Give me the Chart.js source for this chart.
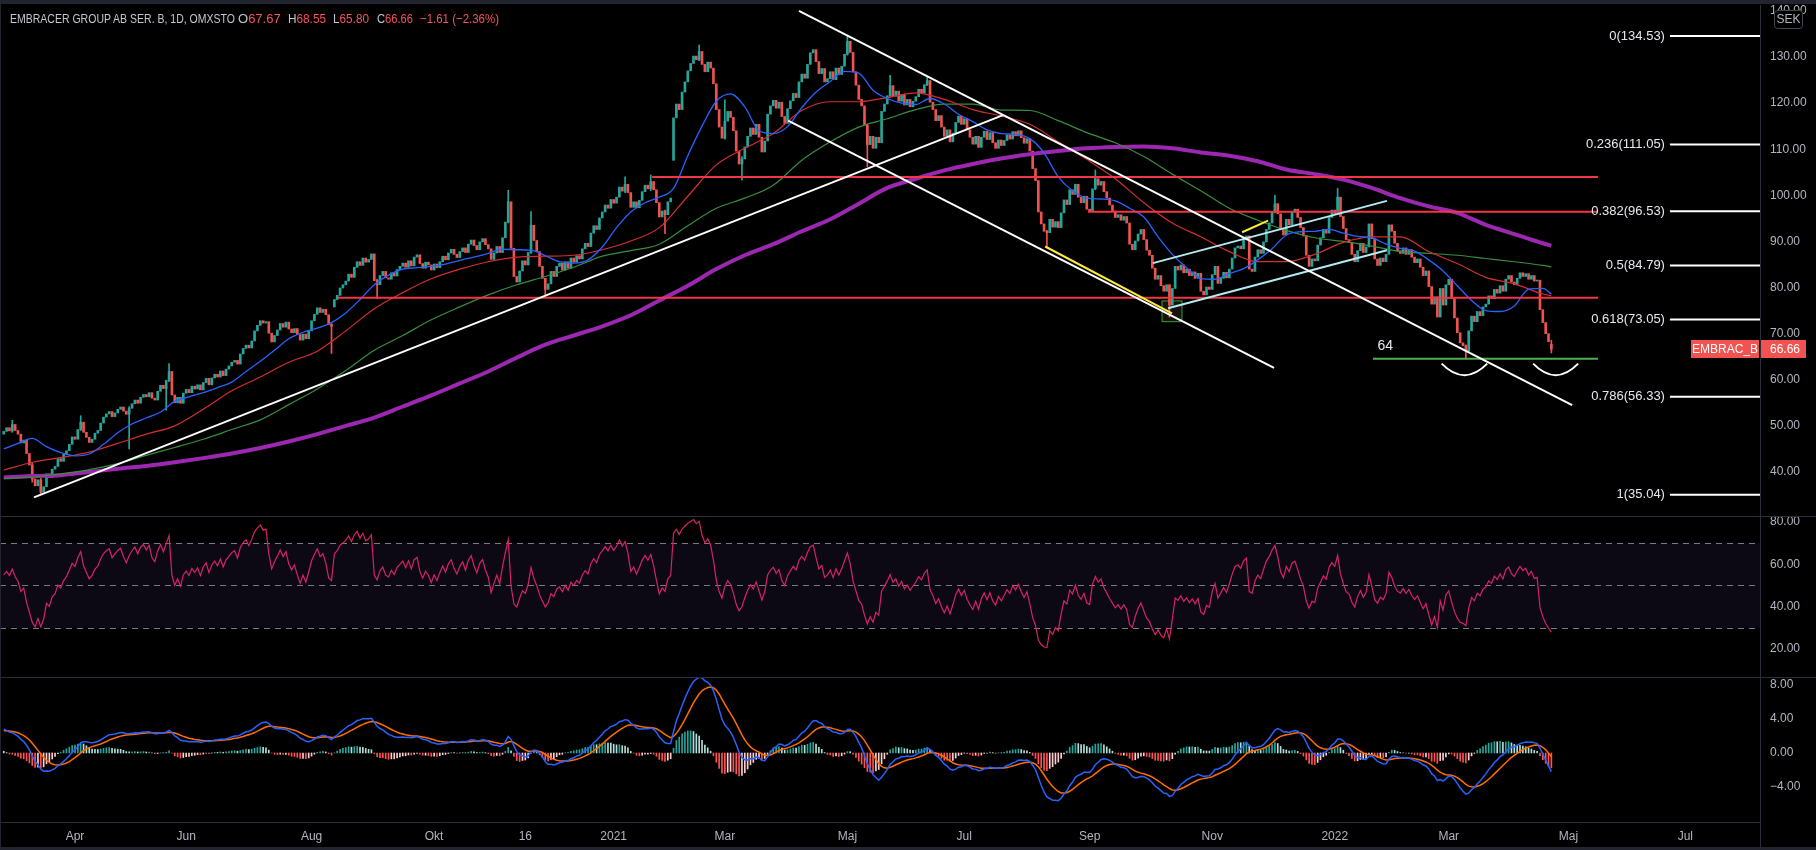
<!DOCTYPE html>
<html lang="sv">
<head>
<meta charset="utf-8">
<title>EMBRACER GROUP AB SER. B, 1D, OMXSTO</title>
<script src="https://cdn.jsdelivr.net/npm/chart.js@4.4.1/dist/chart.umd.min.js"></script>
<style>
 html,body{margin:0;padding:0;background:#000;}
 #wrap{position:relative;width:1816px;height:850px;background:#000;overflow:hidden;font-family:"Liberation Sans",Arial,sans-serif;}
 .pane{position:absolute;left:0;width:1816px;}
 #paneP{top:0;height:516px;}
 #paneR{top:517px;height:160px;}
 #paneM{top:678px;height:172px;}
 .sep{position:absolute;left:0;width:1816px;height:1px;background:#2a2e39;}
 #legend{position:absolute;left:0;top:11px;width:700px;height:16px;font-size:13px;line-height:16px;color:#c3c6ce;white-space:nowrap;}
 #legend span.it{position:absolute;top:0;transform-origin:0 50%;}
 #legend .v{color:#f7525f;}
</style>
</head>
<body>
<div id="wrap">
 <div class="pane" id="paneP"><canvas id="cP" width="1816" height="516"></canvas></div>
 <div class="sep" style="top:516px"></div>
 <div class="pane" id="paneR"><canvas id="cR" width="1816" height="160"></canvas></div>
 <div class="sep" style="top:677px"></div>
 <div class="pane" id="paneM"><canvas id="cM" width="1816" height="172"></canvas></div>
 <div style="position:absolute;left:0;top:0;width:1816px;height:4px;background:#22252f"></div>
 <div style="position:absolute;left:0;top:0;width:1px;height:850px;background:#22252f"></div>
 <div style="position:absolute;left:0;top:847px;width:1816px;height:3px;background:#22252f"></div>
 <div style="position:absolute;left:1760px;top:822px;width:1px;height:26px;background:#2a2e39"></div>
 <div id="legend"></div>
</div>
<script>
// ---------------- DATA ----------------
const symbolTitle = 'EMBRACER GROUP AB SER. B, 1D, OMXSTO';
const tagName = 'EMBRAC_B';
const startDate = '2020-02-26';
const holidays = ['2020-04-10','2020-04-13','2020-05-01','2020-05-21','2020-06-19','2020-12-24','2020-12-25','2020-12-31',
  '2021-01-01','2021-01-06','2021-04-02','2021-04-05','2021-05-13','2021-06-25','2021-12-24','2021-12-31',
  '2022-01-06','2022-04-15','2022-04-18','2022-05-26','2022-06-06','2022-06-24'];
const tickDates = ['2020-04-01','2020-06-01','2020-08-01','2020-10-01','2020-11-16','2021-01-01','2021-03-01','2021-05-01','2021-07-01','2021-09-01','2021-11-01','2022-01-01','2022-03-01','2022-05-01','2022-07-01'];
const tickLabels = ['Apr','Jun','Aug','Okt','16','2021','Mar','Maj','Jul','Sep','Nov','2022','Mar','Maj','Jul'];

// daily closes
const closes = [
48.8,49.6,48.9,50.3,49.0,48.2,46.3,46.9,44.0,41.5,
38.5,37.0,38.3,35.6,36.8,39.6,38.8,40.6,41.2,42.9,
42.3,43.8,44.6,46.0,47.6,47.1,49.2,50.8,48.6,47.5,
46.4,47.1,48.4,49.0,50.6,51.9,52.6,53.1,52.0,52.8,
53.6,54.1,53.2,52.5,53.8,54.8,55.6,54.9,56.2,56.8,
56.3,57.2,56.0,55.6,57.5,58.8,58.1,59.8,61.8,56.7,
55.0,56.2,54.9,57.1,57.9,57.2,58.6,58.0,58.9,57.8,
59.4,60.3,58.9,60.4,61.2,60.6,61.9,60.9,62.3,63.0,
63.8,64.2,63.4,65.6,66.8,67.5,66.9,68.4,70.6,71.8,
72.8,72.3,72.6,70.1,68.2,69.6,70.8,72.2,71.4,72.5,
71.0,70.2,71.1,69.8,68.6,69.9,68.9,70.6,72.8,74.2,
75.6,74.6,75.3,74.1,72.0,71.6,77.4,78.3,79.9,80.6,
81.4,82.9,82.2,84.4,85.6,84.8,86.4,85.5,86.1,87.3,
81.5,80.6,82.6,83.5,82.1,81.8,83.2,82.5,83.9,84.6,
85.3,84.4,85.8,84.7,86.6,87.1,85.2,84.2,85.5,84.9,
83.8,85.1,84.3,85.6,86.8,86.0,87.5,88.3,87.2,86.5,
87.8,88.6,87.6,89.4,90.3,89.1,88.2,89.9,90.6,89.3,
88.4,86.1,87.5,88.9,87.6,90.8,94.2,98.6,88.5,82.4,
81.2,83.6,85.8,84.9,87.6,93.5,90.2,87.8,84.6,82.0,
79.6,80.8,83.5,82.4,84.6,85.3,83.8,85.6,84.2,86.4,
85.5,86.9,86.2,88.4,89.6,88.9,91.8,93.4,92.6,95.1,
96.4,97.9,97.2,99.1,98.3,99.6,101.8,100.9,102.4,100.6,
97.4,98.6,97.3,98.9,100.8,102.2,101.4,103.0,101.2,98.4,
95.3,96.6,95.8,98.6,99.4,116.8,119.8,118.6,122.4,124.6,
127.0,128.6,130.2,129.4,131.2,128.4,126.8,128.9,127.6,124.2,
118.6,114.8,112.4,116.1,118.2,116.9,114.0,109.6,106.8,107.9,
110.5,112.8,114.6,113.2,115.4,112.6,109.4,111.8,117.6,119.4,
120.6,118.9,120.2,117.1,115.6,118.8,120.5,122.1,121.2,124.6,
126.3,125.4,128.4,130.9,131.6,129.0,126.4,127.5,124.6,125.3,
126.8,125.1,127.6,126.2,128.0,130.6,133.4,131.0,126.8,123.9,
120.8,119.4,115.2,111.0,112.8,110.2,112.6,111.4,118.2,119.8,
121.6,123.8,121.5,122.6,120.4,121.9,119.6,120.8,119.2,120.4,
121.4,123.0,122.2,124.0,124.9,120.2,118.6,116.2,117.3,114.8,
112.8,114.2,111.6,113.5,115.8,117.2,115.4,116.6,114.2,112.6,
111.1,112.8,110.4,112.6,113.9,112.1,113.6,111.4,110.2,112.0,
110.8,111.9,113.1,112.2,113.8,112.9,114.0,112.5,111.3,112.3,
109.6,105.8,103.2,96.4,93.8,92.2,91.9,94.8,93.1,94.3,
93.0,96.2,99.0,98.0,101.2,100.2,102.4,99.6,98.4,99.8,
97.0,96.5,101.4,103.6,102.2,103.0,100.8,99.4,97.9,96.6,
95.2,95.8,94.6,95.4,94.0,89.4,88.2,90.1,91.6,92.6,
90.4,88.1,87.0,84.2,81.8,82.6,80.4,79.2,80.6,76.2,
79.8,84.6,83.8,84.9,83.2,84.0,82.6,83.4,82.0,83.1,
79.2,78.4,80.1,79.6,82.8,84.6,80.9,82.0,83.3,82.1,
84.0,86.4,88.6,89.0,88.4,90.4,91.2,84.0,83.5,86.6,
88.2,87.4,89.9,92.6,94.0,96.4,98.2,96.0,92.8,91.4,
94.8,93.6,96.4,97.0,95.2,93.0,91.2,87.0,84.6,86.2,
85.8,89.2,90.8,92.6,91.8,95.2,96.8,96.0,99.6,95.4,
92.8,90.4,89.8,87.2,85.6,88.0,89.6,87.6,88.8,93.8,
90.6,86.2,84.8,86.4,85.6,87.2,93.6,92.2,89.6,88.0,
87.4,88.6,87.2,88.2,86.6,85.4,86.2,84.4,82.6,83.6,
80.2,76.4,78.0,73.6,79.8,76.2,80.6,81.8,77.6,73.4,
70.2,68.0,67.4,66.2,70.6,73.8,72.6,74.8,73.9,75.8,
76.4,78.2,77.6,79.6,78.8,80.4,79.2,81.8,82.6,81.2,
80.6,82.0,83.2,82.4,83.0,81.8,82.6,81.4,81.6,75.2,
72.4,70.0,68.27,66.66];
// opens that differ from the previous close: [bar, open]
const openGaps = [[0,48.2],[116,75.8],[235,107.6],[543,67.67]];
// visible wicks: [bar, high, low]
const wicks = [[3,51.2,48.6],[10,42.0,37.8],[13,38.6,35.04],[27,52.2,49.0],[44,54.2,45.0],[57,59.9,53.4],[58,63.5,59.6],
 [115,72.2,65.7],[131,81.8,77.6],[177,101.1,94.0],[185,96.5,87.4],[190,82.0,78.0],[218,104.0,100.6],[227,104.4,101.0],
 [232,96.8,91.7],[244,132.6,129.2],[253,120.7,112.2],[259,108.4,103.3],[296,134.53,130.4],[303,115.4,106.2],[311,126.0,121.4],
 [324,125.7,123.8],[366,92.4,88.9],[383,105.5,101.2],[409,80.6,73.6],[446,100.0,96.2],[468,101.5,95.8],[513,67.6,64.5],[543,68.55,65.80]];

// moving averages (blue every 5 bars, others every 10 bars, last value at the last bar)
const ma20 = [45.0,46.2,47.3,45.5,44.2,43.5,43.9,46.0,48.5,50.4,
 51.7,53.0,55.3,56.3,57.2,58.3,59.5,61.8,64.0,66.4,
 68.9,70.3,71.2,72.4,74.5,77.4,80.6,82.7,84.0,84.3,
 84.6,85.1,85.9,86.6,87.4,88.3,88.2,88.1,86.9,85.6,
 85.3,86.0,88.8,93.0,96.4,98.4,99.6,101.5,108.6,115.0,
 120.4,122.0,119.2,114.0,113.4,114.9,119.0,122.4,124.7,126.9,
 126.5,122.8,121.0,120.0,119.7,121.0,119.8,117.6,116.0,114.2,
 113.4,113.2,112.3,109.2,104.0,101.0,99.4,99.2,98.8,97.2,
 95.3,91.0,87.2,84.3,82.0,81.8,83.0,84.1,86.0,88.4,
 91.4,92.1,92.2,92.6,91.8,91.1,90.8,89.4,88.5,87.9,
 86.0,83.6,80.4,77.2,75.0,74.8,76.0,79.6,79.8,78.6];
const ma50 = [40.4,42.1,43.1,44.3,46.2,48.2,50.0,53.6,57.6,60.6,
 63.8,66.2,70.6,75.4,78.9,81.9,84.0,85.6,86.6,86.8,
 87.0,88.2,90.1,93.0,99.8,106.6,110.2,113.4,118.4,120.3,
 120.3,121.2,122.2,120.8,118.6,117.2,115.4,111.6,107.8,103.6,
 98.4,94.0,91.0,87.8,85.6,85.6,87.2,89.8,91.0,91.0,
 87.8,85.2,82.2,80.8,78.6,78.2];
const ma100 = [38.6,38.9,39.6,40.5,41.8,43.6,45.3,47.1,49.2,51.3,
 54.6,58.0,62.0,66.4,69.6,73.0,75.8,78.4,80.6,82.4,
 84.4,86.8,88.0,89.4,93.4,97.2,99.4,102.2,107.6,111.6,
 114.8,116.6,118.6,119.8,119.8,118.5,118.4,116.2,113.6,111.4,
 108.4,104.6,101.0,97.2,94.6,92.4,90.8,90.0,89.0,87.8,
 87.4,87.0,86.3,85.6,84.8,84.5];
const ma200 = [38.8,39.1,39.3,40.0,40.7,41.3,42.1,43.0,44.0,45.2,
 46.6,48.2,50.0,51.8,54.2,56.6,59.2,61.8,64.8,67.6,
 69.6,71.6,74.0,77.2,80.4,84.0,87.0,89.4,92.2,94.8,
 98.2,101.6,103.6,105.4,106.8,108.0,108.9,109.6,110.2,110.5,
 110.6,110.2,109.3,108.6,107.4,105.6,104.6,103.4,101.6,99.4,
 97.6,96.2,93.6,91.6,89.6,89.1];

// oscillator values at the first bar used to seed the indicators
const rsiStart = 55;
const macdStart = 2.8, signalStart = 2.6;

// drawings, in (bar, price)
const fibRatios = [0,0.236,0.382,0.5,0.618,0.786,1];
const fibPrices = [134.53,111.05,96.53,84.79,73.05,56.33,35.04];
const fibStartBar = 584.6;
const resistLevels = [104.0,96.45,77.8];
const resistStartBars = [227.5,380.4,117.3];
const levelEndBar = 559.4;
const supportLevel = 64.57, supportStartBar = 480.4, supportLabel = '64';
const trendWhite = [[10.6,34.5,350.6,117.4],[279.0,140.0,550.3,54.5],[275.2,116.2,445.7,62.6]];
const trendCyan = [[403.2,85.3,485.3,98.8],[408.5,75.5,485.3,88.1]];
const trendYellow = [[365.4,88.9,409.9,74.4],[434.5,92.0,443.6,94.5]];
const zoneBox = [406.4,413.4,72.6,77.1];
const arcs = [[504.5,520.5,63.5,61.0],[536.6,552.4,63.5,61.0]];

// axis ticks
const priceTicks = [40,50,60,70,80,90,100,110,120,130,140];
const rsiTicks = [20,40,60,80];
const rsiLevels = [70,50,30];
const macdTicks = [-4,0,4,8];

// ---------------- DERIVED ----------------
const N = closes.length;
const opens = closes.map((c,i)=> i===0 ? c : closes[i-1]);
openGaps.forEach(([i,o])=>{ opens[i]=o; });
const UP='#26a69a', DOWN='#ef5350';
const FONT='"Liberation Sans", Arial, sans-serif';

// trading calendar
const dates=[]; {
  const d=new Date(startDate+'T00:00:00Z');
  while(dates.length<640){ const dow=d.getUTCDay(); const s=d.toISOString().slice(0,10);
    if(dow!==0&&dow!==6&&!holidays.includes(s)) dates.push(s); d.setUTCDate(d.getUTCDate()+1); }
}
const tickIdx = tickDates.map(td=>dates.findIndex(s=>s>=td));

// RSI 14 (Wilder), state seeded from the first-bar reading
const rsi=new Array(N).fill(null); {
  let m=0; for(let i=1;i<=14;i++) m+=Math.abs(closes[i]-closes[i-1]); m/=14;
  let ag=m*rsiStart/100, al=m*(1-rsiStart/100);
  rsi[0]=rsiStart;
  for(let i=1;i<N;i++){ const ch=closes[i]-closes[i-1]; const g=Math.max(ch,0), l=Math.max(-ch,0);
    ag=(ag*13+g)/14; al=(al*13+l)/14; rsi[i]= al===0 ? 100 : 100-100/(1+ag/al); }
}
// MACD 12/26/9, seeded from the first-bar reading
function ema(arr,n,seed){ const k=2/(n+1); let e=seed; return arr.map((v,i)=> i===0? e : (e=v*k+e*(1-k))); }
const e12=ema(closes,12,closes[0]), e26=ema(closes,26,closes[0]-macdStart);
const macd=closes.map((_,i)=>e12[i]-e26[i]);
const signal=ema(macd,9,signalStart);
const hist=macd.map((m,i)=>m-signal[i]);
const histColors=hist.map((h,i)=>{ const p=i>0?hist[i-1]:h; if(h>=0) return p<h?'#26a69a':'#b2dfdb'; return p<h?'#ffcdd2':'#ff5252'; });

// legend (header line)
{
  const lg=document.getElementById('legend');
  const item=(x,cls)=>{ const s=document.createElement('span'); s.className='it'+(cls?' '+cls:''); s.style.left=x+'px'; lg.appendChild(s); return s; };
  const fitTo=(el,w)=>{ const cur=el.getBoundingClientRect().width; if(cur>w) el.style.transform='scaleX('+(w/cur).toFixed(3)+')'; };
  const ttl=item(10); ttl.textContent=symbolTitle; fitTo(ttl,225);
  const fmt=v=>(v<0?'\u2212':'')+Math.abs(v).toFixed(2);
  const lastH=wicks[wicks.length-1][1], lastL=wicks[wicks.length-1][2];
  const ohlc=[['O',opens[N-1]],['H',lastH],['L',lastL],['C',closes[N-1]]];
  const xs=[238,288,333,377], ws=[43,38,36,36];
  ohlc.forEach(([k,v],j)=>{ const g=item(xs[j]); g.textContent=k; const vs=document.createElement('span'); vs.className='v'; vs.textContent=v.toFixed(2); g.appendChild(vs); fitTo(g,ws[j]); });
  const ch=closes[N-1]-closes[N-2]; const pc=ch/closes[N-2]*100;
  const chg=item(420,'v'); chg.textContent=fmt(ch)+' ('+fmt(pc)+'%)'; fitTo(chg,79);
}

// ---------------- CHART HELPERS ----------------
Chart.defaults.font.family=FONT; Chart.defaults.font.size=12; Chart.defaults.color='#b2b5be';
const X_MIN=-1.316, X_MAX=616.2, YW=56;
function zeroPad(s){ s.paddingTop=0; s.paddingBottom=0; s.paddingLeft=0; s.paddingRight=0; }
function xAxis(show){ return {type:'linear',min:X_MIN,max:X_MAX,offset:false,display:show,
  grid:{display:false,drawTicks:false,offset:false},border:{display:show,color:'#2a2e39'},
  ticks:{autoSkip:false,maxRotation:0,padding:7,color:'#b2b5be',font:{size:12},
    callback:(v)=>{const k=tickIdx.indexOf(v); return k>=0?tickLabels[k]:'';}},
  afterBuildTicks:(s)=>{s.ticks=tickIdx.map(v=>({value:v}));},
  afterFit:(s)=>{ if(show) s.height=28; zeroPad(s); } }; }
function yAxis(min,max,ticks,fmt){ return {type:'linear',position:'right',min,max,beginAtZero:false,
  grid:{display:false,drawTicks:false},border:{display:true,color:'#2a2e39'},
  ticks:{padding:10,color:'#b2b5be',font:{size:12},callback:fmt},
  afterBuildTicks:(s)=>{s.ticks=ticks.map(v=>({value:v}));},
  afterFit:(s)=>{s.width=YW; zeroPad(s);} }; }
const baseOpts={responsive:false,animation:false,events:[],plugins:{legend:{display:false},tooltip:{enabled:false}}};
function seg(x1,y1,x2,y2,color,w){ return {type:'line',data:[{x:x1,y:y1},{x:x2,y:y2}],borderColor:color,borderWidth:w,pointRadius:0,tension:0,fill:false,order:0}; }
function maSet(vals,step,color,w,ord){ return {type:'line',data:vals.map((v,k)=>({x:k<vals.length-1?k*step:N-1,y:v})),
  borderColor:color,borderWidth:w,pointRadius:0,cubicInterpolationMode:'monotone',fill:false,order:ord}; }

// ---------------- PRICE PANE ----------------
const drawings=[];
trendWhite.forEach(t=>drawings.push(seg(t[0],t[1],t[2],t[3],'#ffffff',2)));
trendCyan.forEach(t=>drawings.push(seg(t[0],t[1],t[2],t[3],'#b2ebf2',2)));
trendYellow.forEach(t=>drawings.push(seg(t[0],t[1],t[2],t[3],'#ffeb3b',2)));
resistLevels.forEach((p,k)=>drawings.push(seg(resistStartBars[k],p,levelEndBar,p,'#f23645',2)));
drawings.push(seg(supportStartBar,supportLevel,levelEndBar,supportLevel,'#4caf50',2));
fibPrices.forEach(p=>drawings.push(seg(fibStartBar,p,X_MAX,p,'#ffffff',2)));

const pricePlugin={id:'priceDeco',
  beforeDatasetsDraw(chart){ const {ctx,scales:{x,y}}=chart;
    const X1=x.getPixelForValue(zoneBox[0]),X2=x.getPixelForValue(zoneBox[1]),Y1=y.getPixelForValue(zoneBox[3]),Y2=y.getPixelForValue(zoneBox[2]);
    ctx.save(); ctx.fillStyle='rgba(140,120,60,0.16)'; ctx.fillRect(X1,Y1,X2-X1,Y2-Y1);
    ctx.strokeStyle='rgba(76,175,80,0.85)'; ctx.lineWidth=1; ctx.strokeRect(X1,Y1,X2-X1,Y2-Y1); ctx.restore(); },
  afterDatasetsDraw(chart){ const {ctx,scales:{x,y}}=chart; ctx.save();
    ctx.strokeStyle='#ffffff'; ctx.lineWidth=2;
    arcs.forEach(([i1,i2,pt,pb])=>{ const X1=x.getPixelForValue(i1),X2=x.getPixelForValue(i2),Yt=y.getPixelForValue(pt),Yb=y.getPixelForValue(pb);
      ctx.beginPath(); ctx.moveTo(X1,Yt); ctx.quadraticCurveTo((X1+X2)/2,2*Yb-Yt,X2,Yt); ctx.stroke(); });
    ctx.font='13px '+FONT; ctx.fillStyle='#e6e8ee'; ctx.textAlign='right'; ctx.textBaseline='middle';
    const fx=x.getPixelForValue(fibStartBar)-5;
    fibRatios.forEach((r,k)=>{ ctx.fillText(String(r)+'('+fibPrices[k].toFixed(2)+')',fx,y.getPixelForValue(fibPrices[k])); });
    ctx.font='14px '+FONT; ctx.textAlign='left'; ctx.fillStyle='#e6e8ee';
    ctx.fillText(supportLabel,x.getPixelForValue(supportStartBar+1.6),y.getPixelForValue(67.2));
    ctx.restore(); },
  afterDraw(chart){ const {ctx,chartArea:a,scales:{y}}=chart; ctx.save();
    const yy=Math.round(y.getPixelForValue(closes[N-1]));
    ctx.fillStyle='#f05350'; ctx.fillRect(a.right-69,yy-9,68,18); ctx.fillRect(a.right+1,yy-9,45,18);
    ctx.fillStyle='#ffffff'; ctx.font='12px '+FONT; ctx.textBaseline='middle'; ctx.textAlign='center';
    ctx.fillText(tagName,a.right-35,yy+1); ctx.textAlign='left'; ctx.fillText(closes[N-1].toFixed(2),a.right+10,yy+1);
    ctx.fillStyle='#000'; ctx.strokeStyle='#434651'; ctx.lineWidth=1; ctx.beginPath();
    ctx.roundRect(a.right+14.5,10.5,28,18,3); ctx.fill(); ctx.stroke();
    ctx.fillStyle='#b2b5be'; ctx.textAlign='center'; ctx.fillText('SEK',a.right+28.5,20);
    ctx.restore(); }
};

const bodyData=closes.map((c,i)=>({x:i,y:[opens[i],c]}));
const bodyColors=closes.map((c,i)=>c>=opens[i]?UP:DOWN);
const wickData=wicks.map(([i,h,l])=>({x:i,y:[l,h]}));
const wickColors=wicks.map(([i])=>closes[i]>=opens[i]?UP:DOWN);

new Chart(document.getElementById('cP'),{
  type:'bar',
  data:{datasets:[
    ...drawings,
    maSet(ma20,5,'#2962ff',1.3,2),
    maSet(ma50,10,'#d32f2f',1.2,3),
    maSet(ma100,10,'#388e3c',1.2,4),
    maSet(ma200,10,'#9c27b0',4,5),
    {type:'bar',data:bodyData,backgroundColor:bodyColors,barThickness:2,minBarLength:1,grouped:false,order:8},
    {type:'bar',data:wickData,backgroundColor:wickColors,barThickness:1,grouped:false,order:9}
  ]},
  options:{...baseOpts,layout:{autoPadding:false,padding:{top:5,left:0,right:0,bottom:0}},
    scales:{x:xAxis(false),y:yAxis(30.45,141.28,priceTicks,v=>v.toFixed(2))}},
  plugins:[pricePlugin]
});

// ---------------- RSI PANE ----------------
const rsiPlugin={id:'rsiDeco',beforeDatasetsDraw(chart){ const {ctx,chartArea:a,scales:{y}}=chart; ctx.save();
  const yT=y.getPixelForValue(rsiLevels[0]), yB=y.getPixelForValue(rsiLevels[2]);
  ctx.fillStyle='rgba(126,87,194,0.1)'; ctx.fillRect(a.left,yT,a.right-a.left,yB-yT);
  ctx.strokeStyle='#787b86'; ctx.lineWidth=1; ctx.setLineDash([6,5]);
  rsiLevels.forEach(l=>{ const yy=Math.round(y.getPixelForValue(l))+0.5; ctx.beginPath(); ctx.moveTo(a.left,yy); ctx.lineTo(a.right,yy); ctx.stroke(); });
  ctx.restore(); }};
new Chart(document.getElementById('cR'),{
  type:'line',
  data:{datasets:[{data:rsi.map((v,i)=>({x:i,y:v})),borderColor:'#d6226a',borderWidth:1.2,pointRadius:0,tension:0,fill:false}]},
  options:{...baseOpts,layout:{autoPadding:false,padding:0},scales:{x:xAxis(false),y:yAxis(6.77,82.36,rsiTicks,v=>v.toFixed(2))}},
  plugins:[rsiPlugin]
});

// ---------------- MACD PANE ----------------
new Chart(document.getElementById('cM'),{
  type:'bar',
  data:{datasets:[
    {type:'line',data:macd.map((v,i)=>({x:i,y:v})),borderColor:'#2962ff',borderWidth:1.5,pointRadius:0,tension:0,fill:false,order:1},
    {type:'line',data:signal.map((v,i)=>({x:i,y:v})),borderColor:'#ff6d00',borderWidth:1.5,pointRadius:0,tension:0,fill:false,order:2},
    {type:'bar',data:hist.map((v,i)=>({x:i,y:v})),backgroundColor:histColors,barThickness:1,grouped:false,order:3}
  ]},
  options:{...baseOpts,layout:{autoPadding:false,padding:0},
    scales:{x:xAxis(true),y:yAxis(-8.12,8.82,macdTicks,v=>(v<0?'\u2212':'')+Math.abs(v).toFixed(2))}}
});
</script>
</body>
</html>
